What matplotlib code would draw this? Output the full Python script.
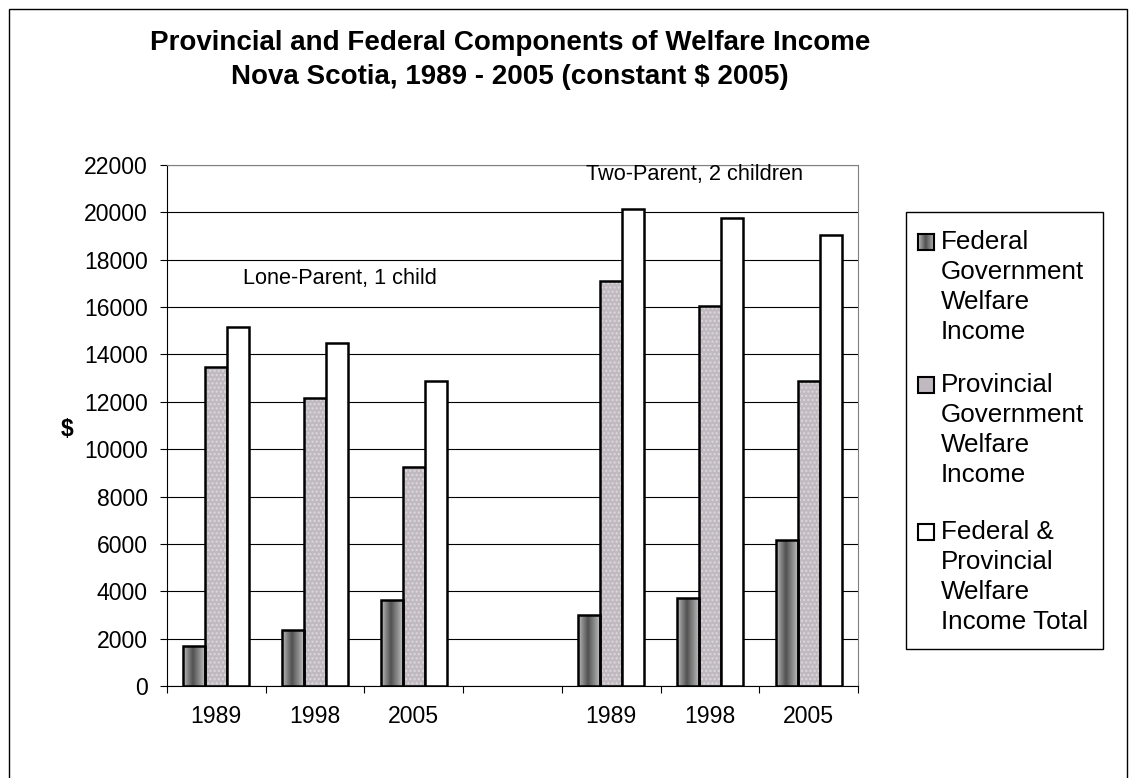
import numpy as np
import matplotlib
matplotlib.use('Agg')
import matplotlib.pyplot as plt
from matplotlib.patches import Rectangle

plt.rcParams['font.family'] = ['Liberation Sans', 'DejaVu Sans']

years = ['1989', '1998', '2005']
federal_lone = [1700, 2350, 3650]
provincial_lone = [13450, 12150, 9250]
total_lone = [15150, 14500, 12900]
federal_two = [3000, 3700, 6150]
provincial_two = [17100, 16050, 12900]
total_two = [20150, 19750, 19050]

legend_labels = ['Federal\nGovernment\nWelfare\nIncome',
                 'Provincial\nGovernment\nWelfare\nIncome',
                 'Federal &\nProvincial\nWelfare\nIncome Total']

# lone-parent group in slots 0-2, empty slot 3, two-parent group in 4-6
slots = np.array([0, 1, 2, 4, 5, 6])
federal = federal_lone + federal_two
provincial = provincial_lone + provincial_two
total = total_lone + total_two

W, H = 1131, 778
fig = plt.figure(figsize=(W / 100, H / 100), dpi=100)
ax = fig.add_axes([167 / W, 1 - 686 / H, (858 - 167) / W, (686 - 165) / H])

w = 1 / 4.5
edge = dict(edgecolor='black', linewidth=1.8)

# grey cylinder-like shading for the federal bars
shade = np.interp(np.linspace(0, 1, 64), [0, 0.12, 0.45, 0.8, 1],
                  [0.80, 0.62, 0.32, 0.58, 0.74])
fed_bars = ax.bar(slots - w, federal, w, facecolor='none', zorder=3, **edge)
for b in fed_bars:
    im = ax.imshow(shade[None, :], cmap='gray', vmin=0, vmax=1, aspect='auto',
                   interpolation='bilinear', zorder=2,
                   extent=[b.get_x(), b.get_x() + b.get_width(), 0, b.get_height()])
    im.set_clip_path(b)

# dotted mauve-grey provincial bars
ax.bar(slots, provincial, w, color='#c0bac0', linewidth=0, zorder=2)
ax.bar(slots, provincial, w, facecolor='none', edgecolor='#dcd8dc',
       hatch='....', linewidth=0, zorder=2.1)
ax.bar(slots, provincial, w, facecolor='none', zorder=3, **edge)

ax.bar(slots + w, total, w, facecolor='white', zorder=3, **edge)

ax.set_xlim(-0.5, 6.5)
ax.set_ylim(0, 22000)
ax.set_yticks(range(0, 22001, 2000))
ax.yaxis.grid(True, color='black', linewidth=0.8)
ax.set_axisbelow(True)

ax.set_xticks(np.arange(-0.5, 7, 1))
ax.set_xticklabels([])
ax.set_xticks(slots, minor=True)
ax.set_xticklabels(years * 2, minor=True)
ax.tick_params(axis='x', which='major', length=5, direction='out')
ax.tick_params(axis='x', which='minor', length=0, pad=14, labelsize=16.6)
ax.tick_params(axis='y', length=5, direction='out', pad=9, labelsize=16.6)

for s in ['top', 'right']:
    ax.spines[s].set_color('#808080')
for s in ['left', 'bottom']:
    ax.spines[s].set_color('black')

ax.text(0.27, 17190, 'Lone-Parent, 1 child', fontsize=15.7, va='center')
ax.text(3.745, 21580, 'Two-Parent, 2 children', fontsize=15.7, va='center')

fig.text(67 / W, 1 - 430 / H, '\\$', fontsize=16.6, fontweight='bold',
         ha='center', va='center')

fig.text(510 / W, 1 - 60 / H,
         'Provincial and Federal Components of Welfare Income\n'
         'Nova Scotia, 1989 - 2005 (constant \\$ 2005)',
         ha='center', va='center', fontsize=20, fontweight='bold',
         linespacing=1.4)

# legend box drawn by hand so each swatch sits on the first text line
fig.add_artist(Rectangle((906 / W, 1 - 649 / H), 197 / W, 437 / H,
                         transform=fig.transFigure, fill=False,
                         edgecolor='black', linewidth=1))
first_line = [242, 385, 532]
for i, (label, y0) in enumerate(zip(legend_labels, first_line)):
    for k, line in enumerate(label.split('\n')):
        fig.text(941 / W, 1 - (y0 + 30 * k) / H, line, fontsize=18.7,
                 va='center', ha='left')
    box = [918 / W, 1 - (y0 + 8) / H, 16 / W, 16 / H]
    if i == 0:
        sw = fig.add_axes(box)
        sw.imshow(shade[None, :], cmap='gray', vmin=0, vmax=1, aspect='auto',
                  interpolation='bilinear')
        sw.set_xticks([])
        sw.set_yticks([])
        for sp in sw.spines.values():
            sp.set_linewidth(1.5)
    else:
        fc = '#c0bac0' if i == 1 else 'white'
        fig.add_artist(Rectangle((box[0], box[1]), box[2], box[3],
                                 transform=fig.transFigure, facecolor=fc,
                                 edgecolor='black', linewidth=1.5))

# outer chart border
fig.add_artist(Rectangle((9 / W, -0.05), (1127 - 9) / W, 1.05 - 9 / H,
                         transform=fig.transFigure, fill=False,
                         edgecolor='black', linewidth=1))

fig.savefig('out.png', dpi=100)
